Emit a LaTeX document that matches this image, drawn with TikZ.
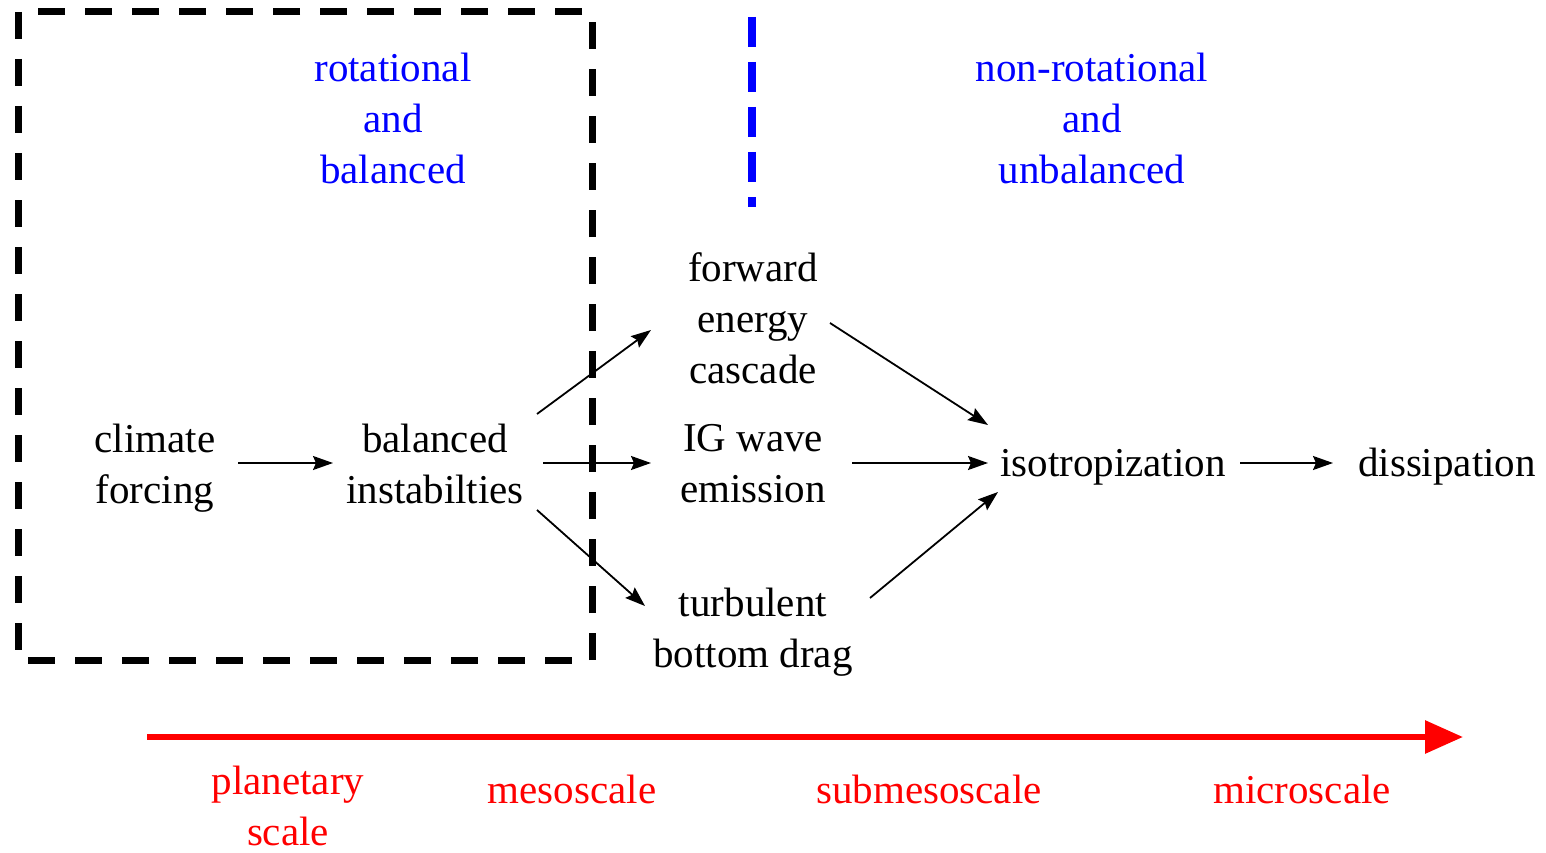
\documentclass[tikz,border=0pt]{standalone}
\usepackage{fontspec}
\setmainfont{Liberation Serif}
\usetikzlibrary{arrows.meta,calc}
\begin{document}
\begin{tikzpicture}[x=1pt,y=-1pt,
  lbl/.style={align=center,inner sep=0pt,font=\fontsize{41}{51}\selectfont,
    execute at begin node=\strut,execute at end node=\strut},
  conn/.style={line width=1.8pt,-{Stealth[length=20pt,width=14pt,inset=3pt]}},
  bluelbl/.style={lbl,text=blue},
  redlbl/.style={lbl,text=red}]
\useasboundingbox (0,0) rectangle (1546,853);
% boxes
\draw[line width=7pt,dash pattern=on 27pt off 20pt] (18,12) rectangle (592,660);
\draw[blue,line width=8pt,dash pattern=on 30pt off 15pt] (752,17) -- (752,207);
% labels
\node[bluelbl] (rot) at (393,126) {rotational\\and\\balanced};
\node[bluelbl] (nrot) at (1092,126) {non-rotational\\and\\unbalanced};
\node[lbl] (clim) at (155,471) {climate\\forcing};
\node[lbl] (bal) at (435,471) {balanced\\instabilties};
\node[lbl] (fwd) at (753,326) {forward\\energy\\cascade};
\node[lbl] (ig) at (753,471) {IG wave\\emission};
\node[lbl] (turb) at (753,635) {turbulent\\bottom drag};
\node[lbl] (iso) at (1113,466) {isotropization};
\node[lbl] (dis) at (1447,466) {dissipation};
% arrows
\draw[conn] ($(clim)+(83,-8)$) -- ($(bal)+(-102,-8)$);
\draw[conn] ($(bal)+(102,-57)$) -- ($(fwd)+(-102,4)$);
\draw[conn] ($(bal)+(108,-8)$) -- ($(ig)+(-102,-8)$);
\draw[conn] ($(bal)+(102,39)$) -- ($(turb)+(-108,-29)$);
\draw[conn] ($(fwd)+(77,-3)$) -- ($(iso)+(-125,-41)$);
\draw[conn] ($(ig)+(99,-8)$) -- ($(iso)+(-125,-3)$);
\draw[conn] ($(turb)+(117,-37)$) -- ($(iso)+(-115,26)$);
\draw[conn] ($(iso)+(127,-3)$) -- ($(dis)+(-114,-3)$);
% scale axis
\coordinate (rs) at (147,737);
\coordinate (re) at (1463,737);
\draw[red,line width=6pt,-{Triangle[length=38pt,width=32pt]}] (rs) -- (re);
\node[redlbl,execute at end node={}] (plan) at (288,813) {planetary\\scale};
\node[redlbl] (meso) at (572,793) {mesoscale};
\node[redlbl] (sub) at (929,793) {submesoscale};
\node[redlbl] (micro) at (1302,793) {microscale};
\end{tikzpicture}
\end{document}
